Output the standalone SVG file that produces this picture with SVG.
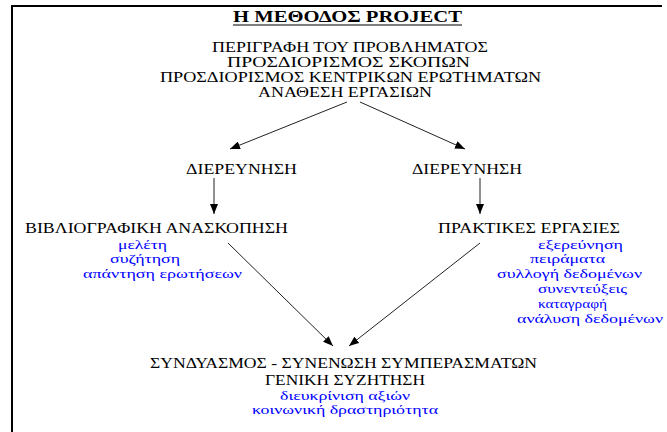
<svg xmlns="http://www.w3.org/2000/svg" width="667" height="432" viewBox="0 0 667 432">
<defs>
<marker id="ah" viewBox="0 0 10 8" refX="10" refY="4" markerWidth="10" markerHeight="8" markerUnits="userSpaceOnUse" orient="auto">
<path d="M0,0 L10,4 L0,8 Z" fill="#000"/>
</marker>
<style>
.t{font-family:"Liberation Serif","DejaVu Serif","Times New Roman",serif;font-size:14px;fill:#000}
.b{font-family:"Liberation Serif","DejaVu Serif","Times New Roman",serif;font-size:13px;fill:#0000ff}
.c{stroke:#222;stroke-width:1;fill:none;marker-end:url(#ah)}
</style>
</defs>
<rect width="667" height="432" fill="#fff"/>
<g id="frame" stroke="#000" stroke-width="2" fill="none">
<path d="M12,432 V6 H662"/>
</g>
<g id="title">
<text class="t" x="233" y="22" textLength="229" lengthAdjust="spacingAndGlyphs" style="font-weight:bold;font-size:16px">Η ΜΕΘΟΔΟΣ PROJECT</text>
<line x1="233" y1="25" x2="462" y2="25" stroke="#000" stroke-width="1.2"/>
</g>
<g id="start">
<text class="t" x="212" y="52" textLength="276" lengthAdjust="spacingAndGlyphs">ΠΕΡΙΓΡΑΦΗ ΤΟΥ ΠΡΟΒΛΗΜΑΤΟΣ</text>
<text class="t" x="227" y="67" textLength="243" lengthAdjust="spacingAndGlyphs">ΠΡΟΣΔΙΟΡΙΣΜΟΣ ΣΚΟΠΩΝ</text>
<text class="t" x="160" y="82" textLength="381" lengthAdjust="spacingAndGlyphs">ΠΡΟΣΔΙΟΡΙΣΜΟΣ ΚΕΝΤΡΙΚΩΝ ΕΡΩΤΗΜΑΤΩΝ</text>
<text class="t" x="258" y="97" textLength="174" lengthAdjust="spacingAndGlyphs">ΑΝΑΘΕΣΗ ΕΡΓΑΣΙΩΝ</text>
</g>
<g id="research-left">
<text class="t" x="186" y="174" textLength="111" lengthAdjust="spacingAndGlyphs">ΔΙΕΡΕΥΝΗΣΗ</text>
</g>
<g id="research-right">
<text class="t" x="412" y="174" textLength="110" lengthAdjust="spacingAndGlyphs">ΔΙΕΡΕΥΝΗΣΗ</text>
</g>
<g id="literature">
<text class="t" x="25" y="233" textLength="263" lengthAdjust="spacingAndGlyphs">ΒΙΒΛΙΟΓΡΑΦΙΚΗ ΑΝΑΣΚΟΠΗΣΗ</text>
<text class="b" x="118" y="249" textLength="49" lengthAdjust="spacingAndGlyphs">μελέτη</text>
<text class="b" x="110" y="263" textLength="70" lengthAdjust="spacingAndGlyphs">συζήτηση</text>
<text class="b" x="83" y="278" textLength="159" lengthAdjust="spacingAndGlyphs">απάντηση ερωτήσεων</text>
</g>
<g id="practical">
<text class="t" x="438" y="233" textLength="182" lengthAdjust="spacingAndGlyphs">ΠΡΑΚΤΙΚΕΣ ΕΡΓΑΣΙΕΣ</text>
<text class="b" x="538" y="249" textLength="85" lengthAdjust="spacingAndGlyphs">εξερεύνηση</text>
<text class="b" x="530" y="263" textLength="75" lengthAdjust="spacingAndGlyphs">πειράματα</text>
<text class="b" x="497" y="278" textLength="145" lengthAdjust="spacingAndGlyphs">συλλογή δεδομένων</text>
<text class="b" x="538" y="293" textLength="89" lengthAdjust="spacingAndGlyphs">συνεντεύξεις</text>
<text class="b" x="538" y="308" textLength="69" lengthAdjust="spacingAndGlyphs">καταγραφή</text>
<text class="b" x="517" y="323" textLength="146" lengthAdjust="spacingAndGlyphs">ανάλυση δεδομένων</text>
</g>
<g id="synthesis">
<text class="t" x="150" y="368" textLength="387" lengthAdjust="spacingAndGlyphs">ΣΥΝΔΥΑΣΜΟΣ - ΣΥΝΕΝΩΣΗ ΣΥΜΠΕΡΑΣΜΑΤΩΝ</text>
<text class="t" x="265" y="385" textLength="160" lengthAdjust="spacingAndGlyphs">ΓΕΝΙΚΗ ΣΥΖΗΤΗΣΗ</text>
<text class="b" x="280" y="400" textLength="130" lengthAdjust="spacingAndGlyphs">διευκρίνιση αξιών</text>
<text class="b" x="252" y="414" textLength="186" lengthAdjust="spacingAndGlyphs">κοινωνική δραστηριότητα</text>
</g>
<g id="connectors">
<line class="c" x1="347" y1="102" x2="230" y2="149"/>
<line class="c" x1="360" y1="102" x2="465" y2="149"/>
<line class="c" x1="214" y1="178" x2="214" y2="214"/>
<line class="c" x1="480" y1="178" x2="480" y2="214"/>
<line class="c" x1="228" y1="243" x2="333" y2="346"/>
<line class="c" x1="480" y1="243" x2="349" y2="346"/>
</g>
</svg>
